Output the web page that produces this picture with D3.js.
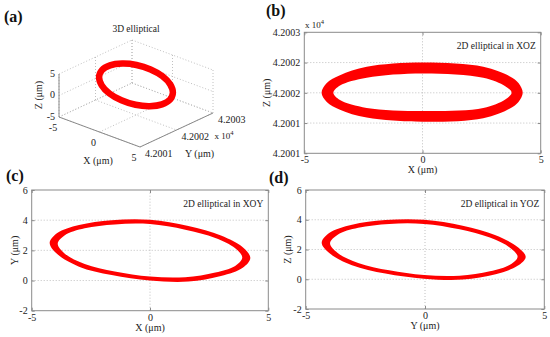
<!DOCTYPE html>
<html lang="en">
<head>
<meta charset="utf-8">
<title>Elliptical trajectories</title>
<script src="https://cdn.jsdelivr.net/npm/d3@7"></script>
<style>
  body { margin: 0; background: #fff; }
  svg { display: block; font-family: "Liberation Serif", "Times New Roman", serif; }
  .frame { fill: none; stroke: #8a8a8a; stroke-width: 1; }
  .grid { stroke: #b0b0b0; stroke-width: 0.8; stroke-dasharray: 1,2; fill: none; }
  .axis path, .axis line { stroke: #8a8a8a; }
  .axis text { font-size: 10px; fill: #222; font-family: "Liberation Serif", serif; }
  .lbl { font-size: 10px; fill: #222; }
  .ttl { font-size: 9.5px; fill: #222; }
  .tag { font-size: 16px; font-weight: bold; fill: #111; }
  .ring { fill: #ff0000; fill-rule: evenodd; }
</style>
</head>
<body>
<script>

// ---- data ----
var xTicks = [-5, 0, 5];
var cdTicks = [-2, 0, 2, 4, 6];
var bTicks = [42001, 42001.5, 42002, 42002.5, 42003];
var bTickLabels = ["4.2001", "4.2001", "4.2002", "4.2002", "4.2003"];
var yTicks3d = [42001, 42002, 42003];
var yTickLabels3d = ["4.2001", "4.2002", "4.2003"];
var zTicks3d = [-5, 0, 5];

// (b) XOZ ring: outer and inner edge, [x, z]
var xozOuter = [[-4.27,42002.0],[-4.05,42002.16],[-3.49,42002.29],[-2.36,42002.43],[0,42002.5],[2.57,42002.43],
  [3.7,42002.27],[4.06,42002.16],[4.24,42002.0],[4.06,42001.85],[3.7,42001.74],[2.57,42001.58],[0,42001.52],
  [-2.36,42001.59],[-3.49,42001.72],[-4.05,42001.85]];
var xozInner = [[-3.77,42002.0],[-3.49,42002.12],[-2.36,42002.25],[0,42002.32],[2.57,42002.25],[3.5,42002.11],
  [3.77,42002.0],[3.5,42001.89],[2.57,42001.75],[0,42001.70],[-2.36,42001.75],[-3.49,42001.88]];

// (c) XOY ring: outer and inner edge, [x, y]
var xoyOuter = [[-4.24,2.5],[-3.92,3.15],[-3.0,3.68],[-1.62,4.0],[0,4.03],[1.62,3.62],[3.0,2.98],[3.92,2.2],
  [4.24,1.5],[3.92,0.85],[3.0,0.3],[1.62,-0.07],[0,0.0],[-1.62,0.36],[-3.0,0.92],[-3.92,1.75]];
var xoyInner = [[-3.9,2.44],[-3.6,3.0],[-2.76,3.46],[-1.49,3.72],[0,3.74],[1.49,3.37],[2.76,2.82],[3.6,2.14],
  [3.9,1.52],[3.6,0.97],[2.76,0.53],[1.49,0.22],[0,0.26],[-1.49,0.6],[-2.76,1.1],[-3.6,1.78]];

// (d) YOZ ring: outer and inner edge, [y, z]
var yozOuter = [[-4.33,2.45],[-4.0,3.12],[-3.06,3.66],[-1.66,3.98],[-0.04,4.0],[1.58,3.6],[2.96,2.96],[3.88,2.16],
  [4.22,1.5],[3.88,0.9],[2.96,0.34],[1.58,-0.02],[-0.04,0.04],[-1.66,0.38],[-3.06,0.94],[-4.0,1.74]];
var yozInner = [[-3.98,2.42],[-3.66,3.0],[-2.8,3.46],[-1.5,3.72],[-0.04,3.72],[1.45,3.36],[2.72,2.8],[3.56,2.12],
  [3.88,1.52],[3.56,0.97],[2.72,0.53],[1.45,0.24],[-0.04,0.28],[-1.5,0.6],[-2.8,1.1],[-3.66,1.76]];

// (a) 3D ring centre line
var ringX = [4.2, 3.88, 2.97, 1.61, 0, -1.61, -2.97, -3.88, -4.2, -3.88, -2.97, -1.61, 0, 1.61, 2.97, 3.88];
var ringY = [42002.00, 42002.15, 42002.28, 42002.37, 42002.40, 42002.37, 42002.28, 42002.15,
             42002.00, 42001.85, 42001.72, 42001.63, 42001.60, 42001.63, 42001.72, 42001.85];
var ringZ = [1.5, 2.3, 3.06, 3.66, 4.0, 4.04, 3.77, 3.23, 2.5, 1.7, 0.94, 0.34, 0, -0.04, 0.23, 0.77];

var svg = d3.select("body").append("svg")
    .attr("width", 550)
    .attr("height", 337);

var mu = "\u03bcm";

function ringPath(line, outer, inner) {
  return line(outer) + line(inner);
}

function panel2d(p) {
  var x = d3.scaleLinear().domain([-5, 5]).range(p.xr),
      y = d3.scaleLinear().domain(p.yd).range(p.yr);
  var g = svg.append("g");

  // dotted grid
  g.selectAll("line.gx").data(xTicks.slice(1, -1)).join("line")
      .attr("class", "grid gx")
      .attr("x1", d => x(d)).attr("x2", d => x(d))
      .attr("y1", p.yr[0]).attr("y2", p.yr[1]);
  g.selectAll("line.gy").data(p.yt.slice(1, -1)).join("line")
      .attr("class", "grid gy")
      .attr("x1", p.xr[0]).attr("x2", p.xr[1])
      .attr("y1", d => y(d)).attr("y2", d => y(d));

  var line = d3.line()
      .x(d => x(d[0]))
      .y(d => y(d[1]))
      .curve(d3.curveCatmullRomClosed.alpha(0.5));
  g.append("path")
      .attr("class", "ring")
      .attr("d", ringPath(line, p.outer, p.inner));

  g.append("g").attr("class", "axis")
      .attr("transform", "translate(0," + p.yr[0] + ")")
      .call(d3.axisBottom(x).tickValues(xTicks).tickSize(-3).tickPadding(3).tickFormat(d => String(d)));
  g.append("g").attr("class", "axis")
      .attr("transform", "translate(0," + p.yr[1] + ")")
      .call(d3.axisTop(x).tickValues(xTicks).tickSize(-3).tickFormat(""));
  g.append("g").attr("class", "axis")
      .attr("transform", "translate(" + p.xr[0] + ",0)")
      .call(d3.axisLeft(y).tickValues(p.yt).tickSize(-3).tickPadding(4)
        .tickFormat((d, i) => p.labels ? p.labels[i] : String(d)));
  g.append("g").attr("class", "axis")
      .attr("transform", "translate(" + p.xr[1] + ",0)")
      .call(d3.axisRight(y).tickValues(p.yt).tickSize(-3).tickFormat(""));
  g.selectAll(".axis").attr("font-family", null).attr("font-size", null);
  g.selectAll(".axis .domain").remove();

  g.append("rect").attr("class", "frame")
      .attr("x", p.xr[0]).attr("y", p.yr[1])
      .attr("width", p.xr[1] - p.xr[0]).attr("height", p.yr[0] - p.yr[1]);

  g.append("text").attr("class", "ttl")
      .attr("x", p.xr[1] - 5).attr("y", p.yr[1] + 17)
      .attr("text-anchor", "end")
      .text(p.title);
  g.append("text").attr("class", "lbl")
      .attr("x", (p.xr[0] + p.xr[1]) / 2).attr("y", p.yr[0] + 20)
      .attr("text-anchor", "middle")
      .text(p.xl);
  g.append("text").attr("class", "lbl")
      .attr("transform", "translate(" + p.ylx + "," + (p.yr[0] + p.yr[1]) / 2 + ")rotate(-90)")
      .attr("text-anchor", "middle")
      .attr("dy", "0.35em")
      .text(p.yl);
  return g;
}

// (b)
var gb = panel2d({xr: [304.3, 540.7], yr: [153.3, 32.3], yd: [42001, 42003], yt: bTicks, labels: bTickLabels,
  outer: xozOuter, inner: xozInner, title: "2D elliptical in XOZ", xl: "X (" + mu + ")", yl: "Z (" + mu + ")", ylx: 266});
var e4 = gb.append("text").attr("class", "lbl").attr("x", 305).attr("y", 28).style("font-size", "9px");
e4.append("tspan").text("x 10");
e4.append("tspan").attr("dy", -4).style("font-size", "6.5px").text("4");

// (c)
panel2d({xr: [31.7, 268.3], yr: [310.7, 190], yd: [-2, 6], yt: cdTicks,
  outer: xoyOuter, inner: xoyInner, title: "2D elliptical in XOY", xl: "X (" + mu + ")", yl: "Y (" + mu + ")", ylx: 14});

// (d)
panel2d({xr: [305.7, 544.3], yr: [309, 190], yd: [-2, 6], yt: cdTicks,
  outer: yozOuter, inner: yozInner, title: "2D elliptical in YOZ", xl: "Y (" + mu + ")", yl: "Z (" + mu + ")", ylx: 287});

// (a) 3D view, MATLAB default azimuth/elevation
var px = d3.scaleLinear().domain([-5, 5]).range([0, 1]),
    py = d3.scaleLinear().domain([42001, 42003]).range([0, 1]),
    pz = d3.scaleLinear().domain([-5, 5]).range([0, 1]);
var o = [59, 117], vx = [81, 30], vy = [73, -34], vz = [0, -43];

function proj(x, y, z) {
  var a = px(x), b = py(y), c = pz(z);
  return [o[0] + a * vx[0] + b * vy[0] + c * vz[0], o[1] + a * vx[1] + b * vy[1] + c * vz[1]];
}

var ga = svg.append("g");
var seg = [];
xTicks.forEach(function(v) {
  seg.push([[v, 42001, -5], [v, 42003, -5]]);     // floor
  seg.push([[v, 42003, -5], [v, 42003, 5]]);      // back wall
});
yTicks3d.forEach(function(v) {
  seg.push([[-5, v, -5], [5, v, -5]]);            // floor
  seg.push([[-5, v, -5], [-5, v, 5]]);            // left wall
});
zTicks3d.forEach(function(v) {
  seg.push([[-5, 42003, v], [5, 42003, v]]);      // back wall
  seg.push([[-5, 42001, v], [-5, 42003, v]]);     // left wall
});
ga.selectAll("line.grid").data(seg).join("line")
    .attr("class", "grid")
    .attr("x1", d => proj(...d[0])[0]).attr("y1", d => proj(...d[0])[1])
    .attr("x2", d => proj(...d[1])[0]).attr("y2", d => proj(...d[1])[1]);

var axes = [
  [[-5, 42001, -5], [5, 42001, -5]],
  [[5, 42001, -5], [5, 42003, -5]],
  [[-5, 42001, -5], [-5, 42001, 5]]
];
ga.selectAll("line.ax").data(axes).join("line")
    .attr("class", "ax")
    .attr("stroke", "#8a8a8a")
    .attr("x1", d => proj(...d[0])[0]).attr("y1", d => proj(...d[0])[1])
    .attr("x2", d => proj(...d[1])[0]).attr("y2", d => proj(...d[1])[1]);

var ring3d = ringX.map((v, i) => proj(v, ringY[i], ringZ[i]));
ga.append("path")
    .attr("d", d3.line().curve(d3.curveCatmullRomClosed.alpha(0.5))(ring3d))
    .attr("fill", "none")
    .attr("stroke", "#ff0000")
    .attr("stroke-width", 6.5);

ga.selectAll("text.zt").data(zTicks3d).join("text")
    .attr("class", "lbl zt")
    .attr("x", d => proj(-5, 42001, d)[0] - 4)
    .attr("y", d => proj(-5, 42001, d)[1] - 1)
    .attr("dy", "0.35em")
    .attr("text-anchor", "end")
    .text(d => String(d));
ga.selectAll("text.xt").data(xTicks).join("text")
    .attr("class", "lbl xt")
    .attr("x", d => proj(d, 42001, -5)[0] - 6)
    .attr("y", d => proj(d, 42001, -5)[1] + 10)
    .attr("dy", "0.35em")
    .attr("text-anchor", "middle")
    .text(d => String(d));
ga.selectAll("text.yt").data(yTicks3d).join("text")
    .attr("class", "lbl yt")
    .attr("x", d => proj(5, d, -5)[0] + 5)
    .attr("y", d => proj(5, d, -5)[1] + 6)
    .attr("dy", "0.35em")
    .text((d, i) => yTickLabels3d[i]);

var yl = proj(5, 42001, -5);
ga.append("text").attr("class", "lbl")
    .attr("x", yl[0] + 45).attr("y", yl[1] + 6).attr("dy", "0.35em")
    .text("Y (" + mu + ")");
var ym = proj(5, 42002, -5);
var e4a = ga.append("text").attr("class", "lbl")
    .attr("x", ym[0] + 38).attr("y", ym[1] + 6).attr("dy", "0.35em").style("font-size", "9px");
e4a.append("tspan").text("x 10");
e4a.append("tspan").attr("dy", -4).style("font-size", "6.5px").text("4");

ga.append("text").attr("class", "lbl")
    .attr("x", 98).attr("y", 164).attr("text-anchor", "middle")
    .text("X (" + mu + ")");
ga.append("text").attr("class", "lbl")
    .attr("transform", "translate(38,95)rotate(-90)")
    .attr("text-anchor", "middle").attr("dy", "0.35em")
    .text("Z (" + mu + ")");
ga.append("text").attr("class", "ttl")
    .attr("x", 136).attr("y", 32).attr("text-anchor", "middle")
    .text("3D elliptical");

// panel tags
var tags = ["(a)", "(b)", "(c)", "(d)"];
var tagPos = [[4, 22], [266, 16], [6, 181], [269, 183]];
svg.selectAll("text.tag").data(tags).join("text")
    .attr("class", "tag")
    .attr("x", (d, i) => tagPos[i][0])
    .attr("y", (d, i) => tagPos[i][1])
    .text(d => d);

</script>
</body>
</html>
